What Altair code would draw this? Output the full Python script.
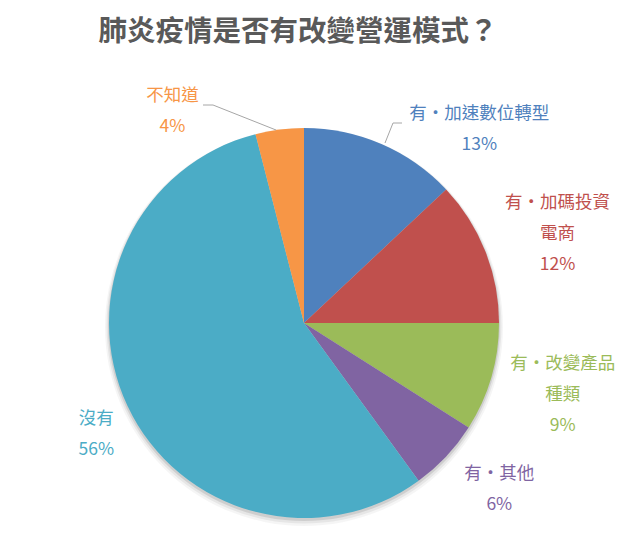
import altair as alt
import pandas as pd

# ---- data ----
categories = ["有‧加速數位轉型", "有‧加碼投資電商", "有‧改變產品種類", "有‧其他", "沒有", "不知道"]
label_lines = [["有‧加速數位轉型"], ["有‧加碼投資", "電商"], ["有‧改變產品", "種類"],
               ["有‧其他"], ["沒有"], ["不知道"]]
values = [13, 12, 9, 6, 56, 4]
colors = ["#4F81BD", "#C0504D", "#9BBB59", "#8064A2", "#4BACC6", "#F79646"]
title_text = "肺炎疫情是否有改變營運模式？"

# ---- styling / layout ----
FONT = "Noto Sans CJK TC"
W, H = 624, 470
CX, CY = 296, 258          # pie centre inside the view
R = 195
LABEL_R = 235
LINE_H = 31
label_offsets = [(82, 22), (35, -2), (33, 6), (24, 6), (5, 11), (-102, 22)]

df = pd.DataFrame({
    "category": categories,
    "value": values,
    "idx": list(range(len(categories))),
    "label": ["\n".join(l + [f"{v}%"]) for l, v in zip(label_lines, values)],
})

color_scale = alt.Scale(domain=categories, range=colors)
theta_scale = alt.Scale(domain=[0, 100])

base = alt.Chart(df)

# soft shadow under the pie
one = pd.DataFrame({"a": [0]})
shadows = []
for dr, dy, op in [(1, 2, 0.10), (2.5, 3, 0.06), (4, 4, 0.04)]:
    shadows.append(
        alt.Chart(one).mark_arc(theta=0, theta2=6.2832, radius=R + dr, color="#000000", opacity=op)
        .encode(x=alt.value(CX), y=alt.value(CY + dy))
    )

pie = base.mark_arc(radius=R).encode(
    theta=alt.Theta("value:Q", stack=True, scale=theta_scale),
    order=alt.Order("idx:Q"),
    color=alt.Color("category:N", scale=color_scale, legend=None),
    x=alt.value(CX),
    y=alt.value(CY),
)

labels = []
for i, (ddx, ddy) in enumerate(label_offsets):
    n_lines = len(label_lines[i]) + 1
    labels.append(
        base.transform_window(cum="sum(value)", sort=[alt.SortField("idx")])
        .transform_calculate(mid="datum.cum - datum.value / 2")
        .transform_filter(f"datum.idx == {i}")
        .mark_text(radius=LABEL_R, dx=ddx, dy=ddy - (n_lines - 1) * LINE_H / 2, font=FONT,
                   fontSize=17.5, lineBreak="\n", lineHeight=LINE_H, align="center",
                   baseline="middle")
        .encode(
            theta=alt.Theta("mid:Q", scale=theta_scale),
            text="label:N",
            color=alt.Color("category:N", scale=color_scale, legend=None),
            x=alt.value(CX),
            y=alt.value(CY),
        )
    )

# leader lines (page coords converted to view coords)
OX, OY = 8, 65
segments = [
    (203, 105, 213, 105), (213, 105, 276, 130),   # 不知道
    (385, 143, 393, 123), (393, 123, 402, 123),   # 加速數位轉型
]
leaders = [
    alt.Chart(one).mark_rule(color="#A6A6A6", strokeWidth=1).encode(
        x=alt.value(x1 - OX), y=alt.value(y1 - OY), x2=alt.value(x2 - OX), y2=alt.value(y2 - OY))
    for x1, y1, x2, y2 in segments
]

chart = alt.layer(*shadows, pie, *leaders, *labels).properties(
    width=W, height=H,
    padding={"left": 0, "right": 0, "top": 10, "bottom": 0},
    title=alt.TitleParams(title_text, font=FONT, fontSize=28.5, fontWeight="bold",
                          color="#595959", anchor="middle", dx=-22, offset=18.5),
).configure_view(stroke=None)

chart.save("out.html", embed_options={"renderer": "svg", "actions": False})
